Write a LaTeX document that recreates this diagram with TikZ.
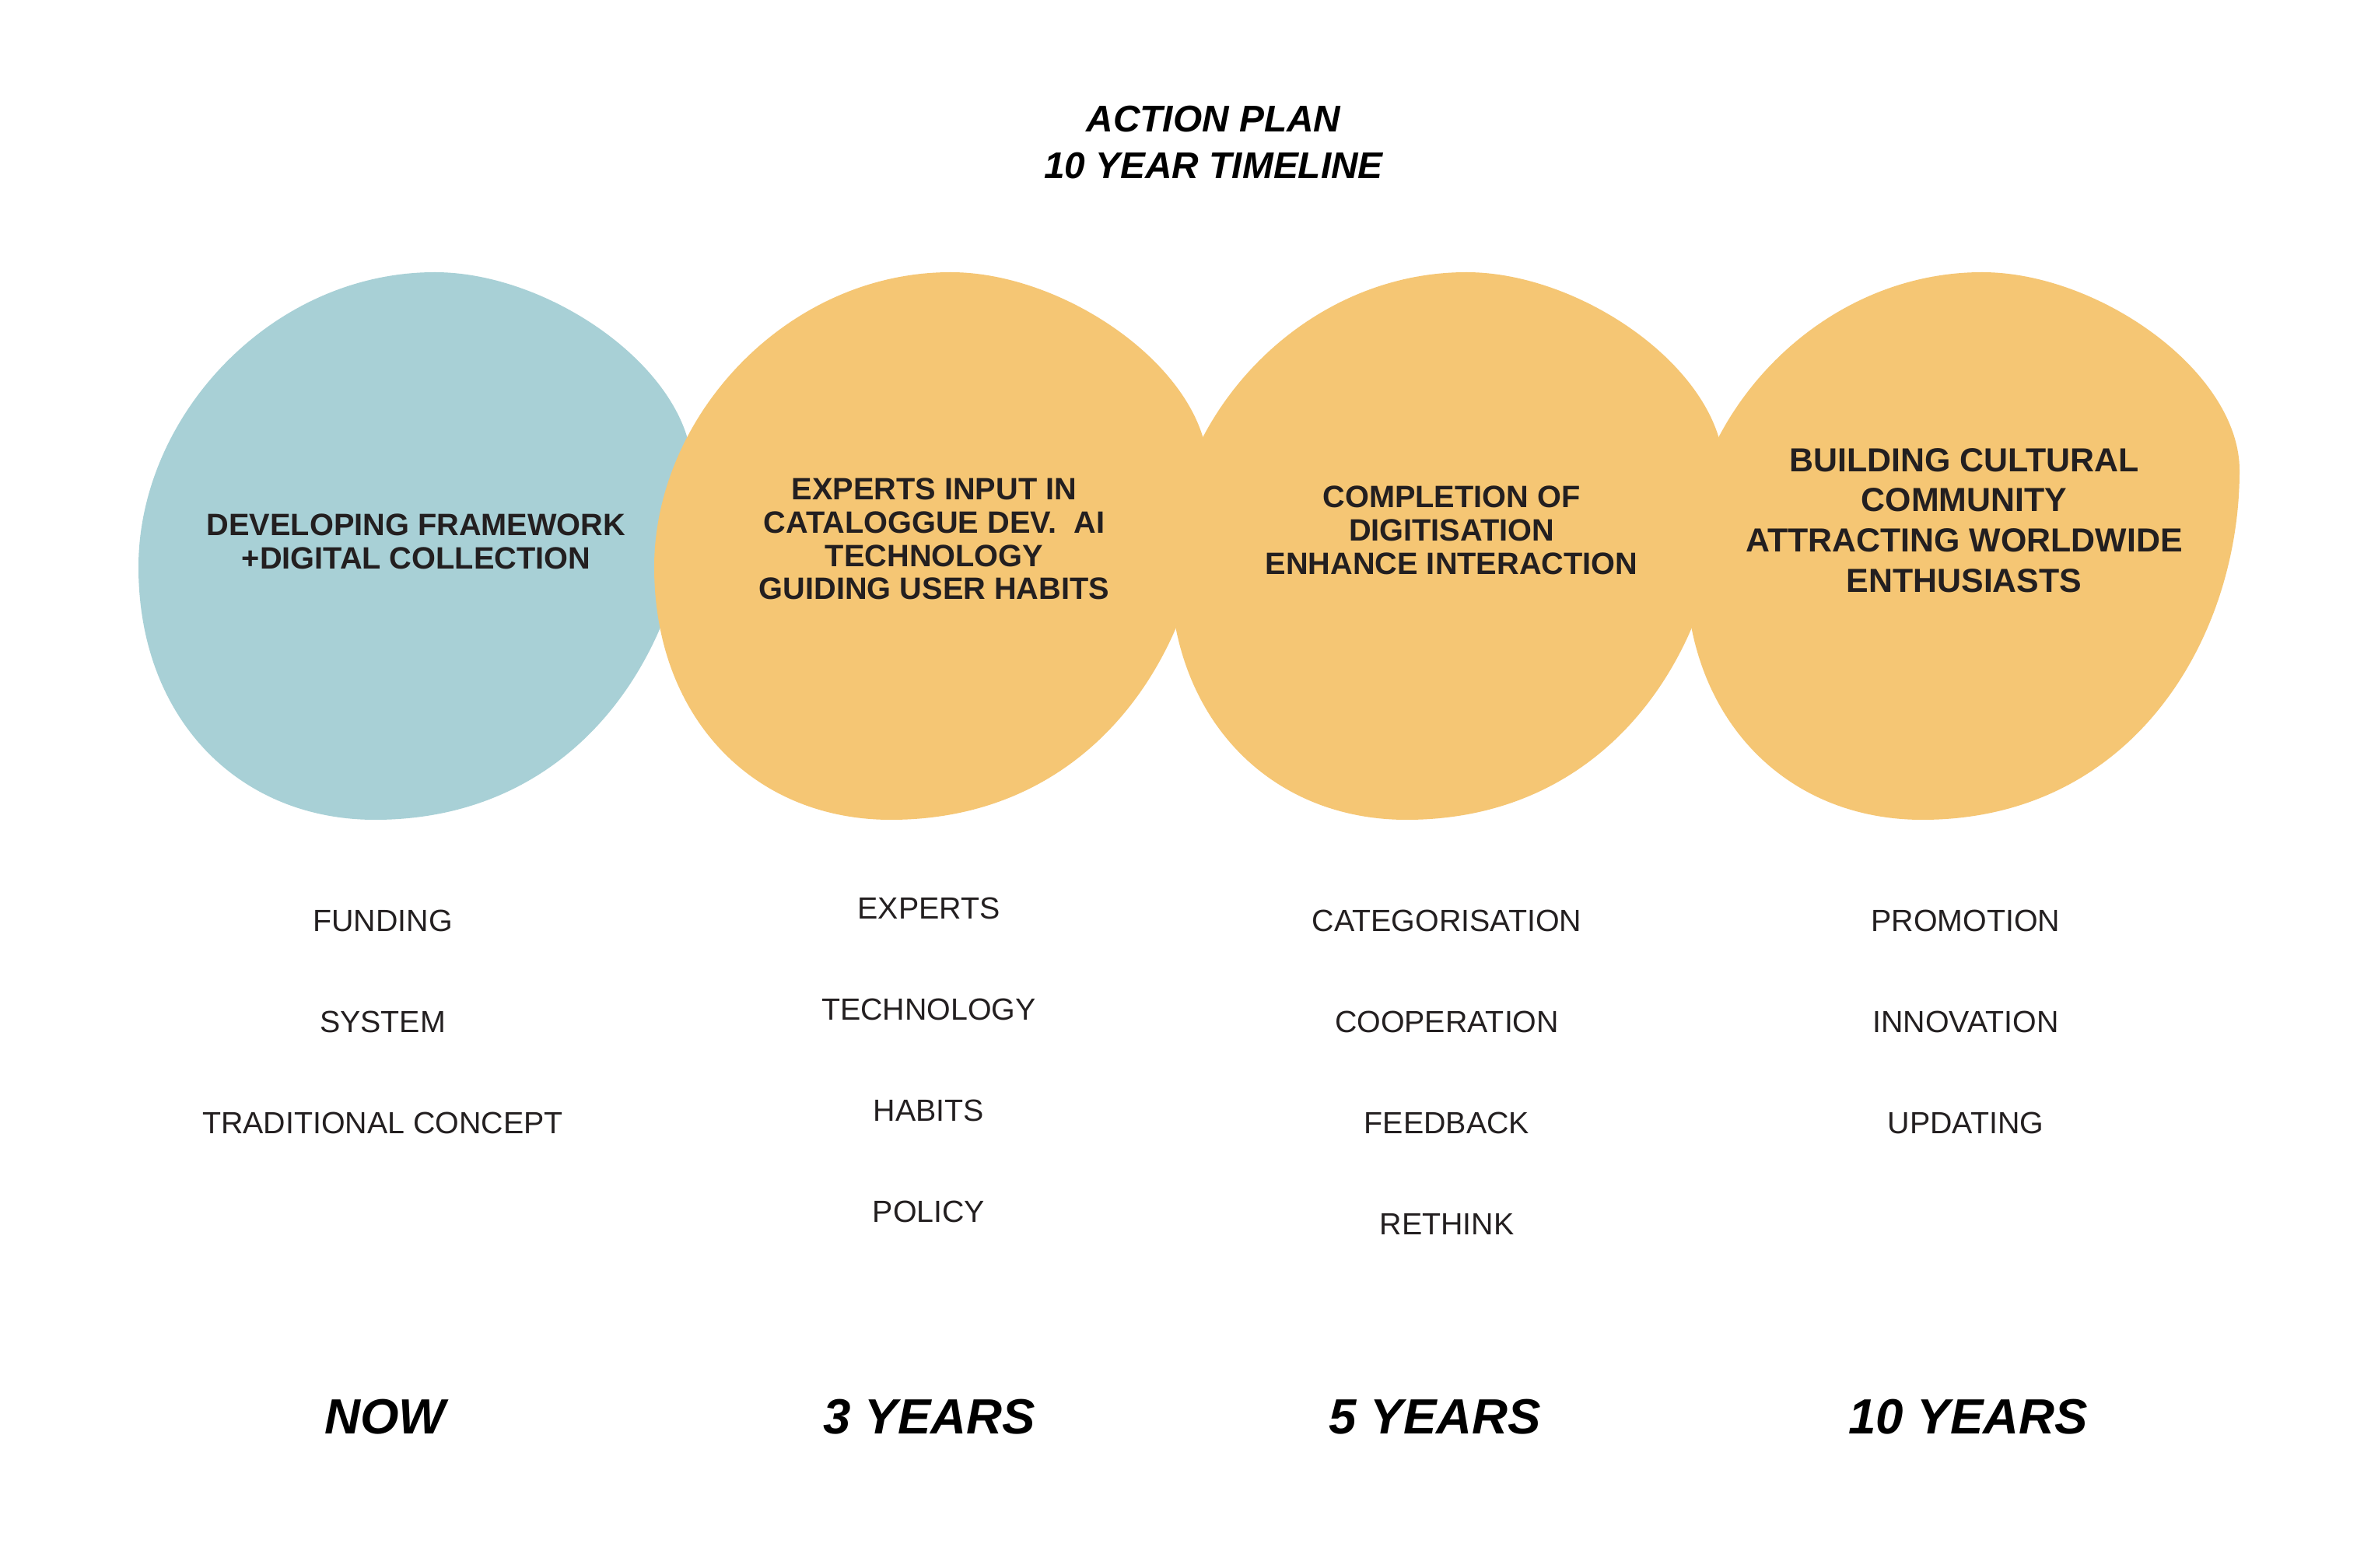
\documentclass[tikz,border=0pt]{standalone}
\usepackage{fontspec}
\setmainfont{Liberation Sans}
\usetikzlibrary{positioning}
\definecolor{blobblue}{HTML}{A8D0D6}
\definecolor{bloborange}{HTML}{F5C674}
\definecolor{inkgrey}{HTML}{231F20}

\begin{document}
\begin{tikzpicture}[
  blobtext/.style={align=center, text=inkgrey, font=\bfseries\fontsize{11.3}{12.2}\selectfont},
  item/.style={text=inkgrey, font=\fontsize{11.2}{13}\selectfont},
  year/.style={font=\bfseries\itshape\fontsize{18.1}{20}\selectfont}
]
\useasboundingbox (0,0) rectangle (30.48,-20.16);
\fill[white] (0,0) rectangle (30.48,-20.16);
% Title
\node[align=center, font=\bfseries\itshape\fontsize{13.6}{17}\selectfont] (title) at (15.60,-1.83) {ACTION PLAN\\10 YEAR TIMELINE};
% Blobs
\foreach \cx/\col in {5.34/blobblue, 11.97/bloborange, 18.60/bloborange, 25.23/bloborange}
  \fill[\col, shift={(\cx,-7.02)}] (0.25,3.52)
    .. controls (1.75,3.52) and (3.56,2.24) .. (3.56,0.97)
    .. controls (3.56,-1.17) and (2.20,-3.52) .. (-0.52,-3.52)
    .. controls (-2.27,-3.52) and (-3.56,-2.22) .. (-3.56,-0.27)
    .. controls (-3.56,1.67) and (-1.85,3.52) .. (0.25,3.52) -- cycle;
% Blob texts
\node[blobtext] (now) at (5.35,-6.96) {DEVELOPING FRAMEWORK\\+DIGITAL COLLECTION};
\node[blobtext] (three) at (12.01,-6.93) {EXPERTS INPUT IN\\CATALOGGUE DEV.\ \ AI\\TECHNOLOGY\\GUIDING USER HABITS};
\node[blobtext] (five) at (18.66,-6.82) {COMPLETION OF\\DIGITISATION\\ENHANCE INTERACTION};
\node[blobtext, font=\bfseries\fontsize{12.2}{14.7}\selectfont] (ten) at (25.25,-6.69) {BUILDING CULTURAL\\COMMUNITY\\ATTRACTING WORLDWIDE\\ENTHUSIASTS};
% Lists
\foreach \txt [count=\i] in {FUNDING, SYSTEM, TRADITIONAL CONCEPT}
  \node[item] (now-\i) at (4.92,{-11.84-1.30*(\i-1)}) {\txt};
\foreach \txt [count=\i] in {EXPERTS, TECHNOLOGY, HABITS, POLICY}
  \node[item] (three-\i) at (11.94,{-11.68-1.30*(\i-1)}) {\txt};
\foreach \txt [count=\i] in {CATEGORISATION, COOPERATION, FEEDBACK, RETHINK}
  \node[item] (five-\i) at (18.60,{-11.84-1.30*(\i-1)}) {\txt};
\foreach \txt [count=\i] in {PROMOTION, INNOVATION, UPDATING}
  \node[item] (ten-\i) at (25.27,{-11.84-1.30*(\i-1)}) {\txt};
% Years
\node[year] (y-now) at (4.95,-18.22) {NOW};
\node[year] (y-three) at (11.95,-18.22) {3 YEARS};
\node[year] (y-five) at (18.45,-18.22) {5 YEARS};
\node[year] (y-ten) at (25.30,-18.22) {10 YEARS};
\end{tikzpicture}
\end{document}
